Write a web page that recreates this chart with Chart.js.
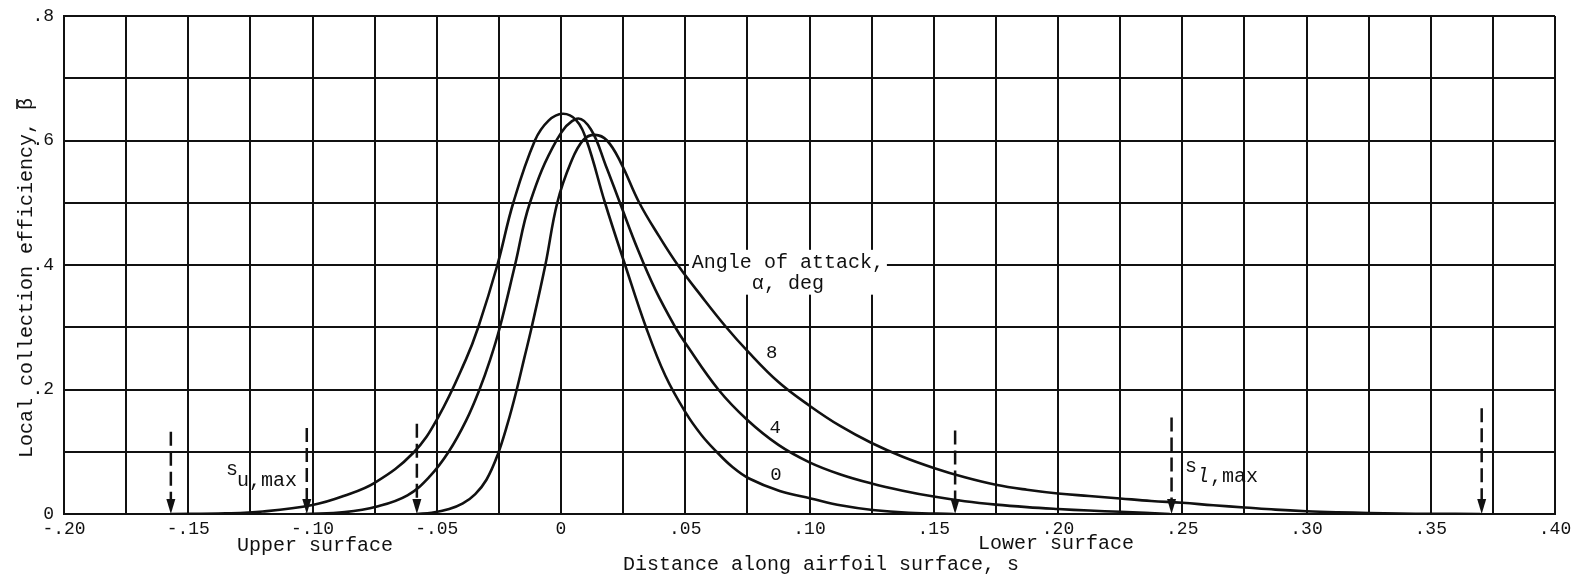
<!DOCTYPE html>
<html>
<head>
<meta charset="utf-8">
<script src="https://cdn.jsdelivr.net/npm/chart.js@4.4.1/dist/chart.umd.min.js"></script>
<style>
  html, body { margin: 0; padding: 0; background: #ffffff; }
  #wrap { width: 1572px; height: 579px; position: relative; }
</style>
</head>
<body>
<div id="wrap"><canvas id="chart" width="1572" height="579"></canvas></div>
<script>
// ---------------- DATA ----------------
// Angle of attack 0 deg
const s0 = [-0.157, -0.135, -0.12, -0.1, -0.0875, -0.075, -0.0595, -0.0495, -0.0383, -0.0333, -0.0256, -0.0192, -0.0105, -0.005, 0.0007, 0.006, 0.0103, 0.0177, 0.0258, 0.0342, 0.042, 0.0503, 0.0565, 0.0626, 0.069, 0.0757, 0.088, 0.1005, 0.113, 0.1254, 0.14, 0.158];
const beta0 = [0, 0.001, 0.004, 0.0145, 0.029, 0.05, 0.098, 0.155, 0.248, 0.30, 0.40, 0.50, 0.60, 0.632, 0.643, 0.633, 0.60, 0.50, 0.40, 0.30, 0.222, 0.162, 0.127, 0.10, 0.0755, 0.057, 0.037, 0.025, 0.0135, 0.0064, 0.002, 0];
// Angle of attack 4 deg
const s4 = [-0.103, -0.087, -0.074, -0.0618, -0.0529, -0.0452, -0.0382, -0.0328, -0.0285, -0.0246, -0.0185, -0.0125, -0.0017, 0.0063, 0.012, 0.018, 0.0237, 0.031, 0.038, 0.046, 0.0503, 0.0633, 0.075, 0.0875, 0.1, 0.1125, 0.125, 0.1375, 0.15, 0.1625, 0.175, 0.1875, 0.2, 0.2125, 0.225, 0.245];
const beta4 = [0, 0.003, 0.012, 0.03, 0.06, 0.10, 0.15, 0.20, 0.248, 0.30, 0.40, 0.50, 0.601, 0.635, 0.618, 0.56, 0.50, 0.424, 0.36, 0.30, 0.273, 0.20, 0.151, 0.111, 0.083, 0.0635, 0.049, 0.0375, 0.028, 0.0205, 0.015, 0.011, 0.008, 0.0055, 0.0035, 0];
// Angle of attack 8 deg
const s8 = [-0.058, -0.052, -0.045, -0.0395, -0.0345, -0.03, -0.0255, -0.0215, -0.0178, -0.0148, -0.0118, -0.0063, -0.0015, 0.004, 0.009, 0.0137, 0.0185, 0.024, 0.0315, 0.0395, 0.047, 0.0565, 0.0665, 0.075, 0.0875, 0.1, 0.1125, 0.125, 0.1375, 0.15, 0.1625, 0.175, 0.1875, 0.2, 0.2125, 0.225, 0.2375, 0.25, 0.2625, 0.275, 0.2875, 0.3, 0.3125, 0.325, 0.3375, 0.35, 0.37];
const beta8 = [0, 0.002, 0.008, 0.017, 0.032, 0.055, 0.095, 0.145, 0.20, 0.25, 0.30, 0.40, 0.50, 0.565, 0.601, 0.609, 0.600, 0.565, 0.50, 0.446, 0.40, 0.35, 0.30, 0.262, 0.212, 0.174, 0.141, 0.114, 0.092, 0.074, 0.059, 0.047, 0.039, 0.033, 0.029, 0.025, 0.021, 0.018, 0.014, 0.0105, 0.007, 0.0045, 0.0028, 0.0016, 0.0008, 0.0003, 0];

const seriesAngles = ['0', '4', '8'];
// Curve labels (angle values) and where they sit
const curveLabelS = [0.0865, 0.0862, 0.0848];
const curveLabelBeta = [0.0627, 0.139, 0.258];

// Impingement limits (dashed arrows): s position and top of arrow
const limitS = [-0.157, -0.1023, -0.058, 0.1586, 0.2457, 0.3705];
const limitTop = [0.132, 0.138, 0.145, 0.134, 0.155, 0.17];

// Axis ranges / ticks
const xMin = -0.20, xMax = 0.40, xGridStep = 0.025, xLabelStep = 0.05;
const yMin = 0, yMax = 0.8, yGridStep = 0.1, yLabelStep = 0.2;

// Text
const xTitle = 'Distance along airfoil surface, s';
const yTitle = 'Local collection efficiency, \u03B2';
const upperText = 'Upper surface';
const lowerText = 'Lower surface';
const legendLine1 = 'Angle of attack,';
const legendLine2 = '\u03B1, deg';

// ---------------- CHART ----------------
const MONO = "'Liberation Mono', 'DejaVu Sans Mono', monospace";
const INK = '#111111';

function fmtX(v) {
  if (Math.abs(v) < 1e-9) return '0';
  const sign = v < 0 ? '-' : '';
  const n = Math.round(Math.abs(v) * 100);
  return sign + '.' + String(n).padStart(2, '0');
}
function fmtY(v) {
  if (Math.abs(v) < 1e-9) return '0';
  return '.' + Math.round(v * 10);
}
function isMultiple(v, step) {
  const r = v / step;
  return Math.abs(r - Math.round(r)) < 1e-6;
}
function toPts(xs, ys) { return xs.map((x, i) => ({ x: x, y: ys[i] })); }

const LEG_S = 0.0913, LEG_B1 = 0.4035, LEG_B2 = 0.370;

const annotations = {
  id: 'annotations',
  beforeDatasetsDraw(chart) {
    const { ctx, scales: { x, y } } = chart;
    // white background masking the grid behind the legend title
    ctx.save();
    ctx.font = '20px ' + MONO;
    const cx = x.getPixelForValue(LEG_S);
    const y1 = y.getPixelForValue(LEG_B1);
    const y2 = y.getPixelForValue(LEG_B2);
    const w1 = ctx.measureText(legendLine1).width;
    ctx.fillStyle = '#ffffff';
    ctx.fillRect(cx - w1 / 2 - 3, y1 - 13, w1 + 6, (y2 + 11) - (y1 - 13));
    ctx.restore();
  },
  afterDatasetsDraw(chart) {
    const { ctx, scales: { x, y } } = chart;
    ctx.save();
    ctx.fillStyle = INK;
    ctx.strokeStyle = INK;
    // legend title text
    ctx.font = '20px ' + MONO;
    ctx.textAlign = 'center';
    ctx.textBaseline = 'middle';
    const cx = x.getPixelForValue(LEG_S);
    ctx.fillText(legendLine1, cx, y.getPixelForValue(LEG_B1));
    ctx.fillText(legendLine2, cx, y.getPixelForValue(LEG_B2));
    // curve labels
    ctx.font = '19px ' + MONO;
    seriesAngles.forEach((a, i) => {
      ctx.fillText(a, x.getPixelForValue(curveLabelS[i]), y.getPixelForValue(curveLabelBeta[i]));
    });
    // dashed limit arrows
    const base = y.getPixelForValue(0);
    limitS.forEach((sv, i) => {
      const px = x.getPixelForValue(sv);
      const top = y.getPixelForValue(limitTop[i]);
      ctx.lineWidth = 2.5;
      ctx.setLineDash([14, 6]);
      ctx.beginPath();
      ctx.moveTo(px, top);
      ctx.lineTo(px, base - 14);
      ctx.stroke();
      ctx.setLineDash([]);
      ctx.beginPath();
      ctx.moveTo(px - 4.5, base - 15);
      ctx.lineTo(px + 4.5, base - 15);
      ctx.lineTo(px, base);
      ctx.closePath();
      ctx.fill();
    });
    // s_u,max and s_l,max labels
    ctx.textAlign = 'left';
    ctx.textBaseline = 'alphabetic';
    ctx.font = '20px ' + MONO;
    ctx.fillText('s', 226, 475);
    ctx.fillText('u,max', 237, 486);
    ctx.fillText('s', 1185, 472);
    ctx.font = 'italic 20px ' + MONO;
    ctx.fillText('l', 1197, 482);
    ctx.font = '20px ' + MONO;
    ctx.fillText(',max', 1210, 482);
    ctx.restore();
  },
  afterDraw(chart) {
    const { ctx } = chart;
    ctx.save();
    ctx.fillStyle = INK;
    ctx.strokeStyle = INK;
    ctx.font = '20px ' + MONO;
    ctx.textAlign = 'center';
    ctx.textBaseline = 'middle';
    ctx.fillText(xTitle, 821, 565);
    ctx.fillText(upperText, 315, 546);
    ctx.fillText(lowerText, 1056, 544);
    // y title rotated
    ctx.translate(27, 278);
    ctx.rotate(-Math.PI / 2);
    ctx.fillText(yTitle, 0, 0);
    const w = ctx.measureText(yTitle).width;
    const cw = ctx.measureText('\u03B2').width;
    ctx.lineWidth = 1.6;
    ctx.beginPath();
    ctx.moveTo(w / 2 - cw + 1, -10);
    ctx.lineTo(w / 2 - 1, -10);
    ctx.stroke();
    ctx.restore();
  }
};

const curveStyle = {
  borderColor: INK,
  borderWidth: 2.6,
  pointRadius: 0,
  fill: false,
  showLine: true,
  tension: 0.4
};

new Chart(document.getElementById('chart'), {
  type: 'scatter',
  data: {
    datasets: [
      Object.assign({ label: seriesAngles[0], data: toPts(s0, beta0) }, curveStyle),
      Object.assign({ label: seriesAngles[1], data: toPts(s4, beta4) }, curveStyle),
      Object.assign({ label: seriesAngles[2], data: toPts(s8, beta8) }, curveStyle)
    ]
  },
  options: {
    responsive: false,
    animation: false,
    devicePixelRatio: 1,
    layout: { padding: { left: 0, right: 17, top: 16, bottom: 0 } },
    plugins: { legend: { display: false }, tooltip: { enabled: false }, title: { display: false } },
    scales: {
      x: {
        type: 'linear',
        min: xMin, max: xMax,
        afterFit(scale) { scale.height = 65; scale.paddingLeft = 0; scale.paddingRight = 0; },
        grid: { color: INK, lineWidth: 2, drawTicks: false },
        border: { color: INK, width: 2 },
        ticks: {
          stepSize: xGridStep,
          autoSkip: false,
          maxRotation: 0,
          padding: 4,
          color: INK,
          font: { family: MONO, size: 18 },
          callback: (v) => isMultiple(v, xLabelStep) ? fmtX(v) : ''
        }
      },
      y: {
        type: 'linear',
        min: yMin, max: yMax,
        afterFit(scale) { scale.width = 64; scale.paddingTop = 0; scale.paddingBottom = 0; },
        grid: { color: INK, lineWidth: 2, drawTicks: false },
        border: { color: INK, width: 2 },
        ticks: {
          stepSize: yGridStep,
          autoSkip: false,
          padding: 10,
          color: INK,
          font: { family: MONO, size: 18 },
          callback: (v) => isMultiple(v, yLabelStep) ? fmtY(v) : ''
        }
      }
    }
  },
  plugins: [annotations]
});
</script>
</body>
</html>
